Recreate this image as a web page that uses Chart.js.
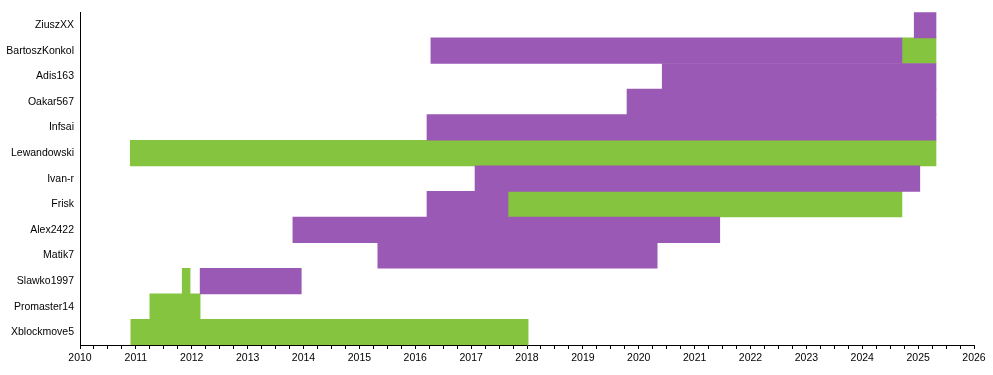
<!DOCTYPE html>
<html>
<head>
<meta charset="utf-8">
<script src="https://cdn.jsdelivr.net/npm/chart.js@4"></script>
<style>
  html, body { margin: 0; padding: 0; background: #fff; }
  #wrap { width: 993px; height: 375px; }
</style>
</head>
<body>
<div id="wrap"><canvas id="chart"></canvas></div>
<script>
// nama anggota, dari atas ke bawah
var members = ['ZiuszXX', 'BartoszKonkol', 'Adis163', 'Oakar567', 'Infsai', 'Lewandowski',
  'Ivan-r', 'Frisk', 'Alex2422', 'Matik7', 'Slawko1997', 'Promaster14', 'Xblockmove5'];

// periode ungu [mulai, selesai]
var purpleSpans = [
  [2024.93, 2025.32], [2016.28, 2024.71], [2020.42, 2025.32], [2019.79, 2025.32],
  [2016.21, 2025.32], null, [2017.07, 2025.03], [2016.21, 2017.66],
  [2013.81, 2021.45], [2015.33, 2020.33], [2012.15, 2013.96], null, null
];

// periode hijau [mulai, selesai]
var greenSpans = [
  null, [2024.71, 2025.32], null, null, null, [2010.9, 2025.32], null, [2017.66, 2024.71],
  null, null, [2011.83, 2011.97], [2011.25, 2012.15], [2010.91, 2018.02]
];

var yearMin = 2010;
var yearMax = 2026;

var ctx = document.getElementById('chart').getContext('2d');
var myChart = new Chart(ctx, {
  type: 'bar',
  data: {
    labels: members,
    datasets: [{
      label: 'purple',
      data: purpleSpans,
      backgroundColor: '#9b59b6',
      borderWidth: 0,
      grouped: false,
      categoryPercentage: 1,
      barPercentage: 1
    }, {
      label: 'green',
      data: greenSpans,
      backgroundColor: '#84c43e',
      borderWidth: 0,
      grouped: false,
      categoryPercentage: 1,
      barPercentage: 1
    }]
  },
  options: {
    indexAxis: 'y',
    responsive: true,
    maintainAspectRatio: false,
    animation: false,
    layout: { padding: { top: 10, right: 19, bottom: 0, left: 0 } },
    plugins: {
      legend: { display: false },
      tooltip: { enabled: false }
    },
    scales: {
      x: {
        type: 'linear',
        min: yearMin,
        max: yearMax,
        afterFit: function(scale) { scale.height = 30; },
        border: { display: true, color: '#000', width: 1 },
        grid: { drawOnChartArea: false, drawTicks: true, tickLength: 4, color: '#000' },
        ticks: {
          stepSize: 0.25,
          autoSkip: false,
          maxRotation: 0,
          padding: 3,
          color: '#000',
          font: { family: 'Liberation Sans, Arial, sans-serif', size: 10.5 },
          callback: function(v) {
            return Number.isInteger(v) ? String(v) : '';
          }
        }
      },
      y: {
        type: 'category',
        afterFit: function(scale) { scale.width = 80; },
        border: { display: true, color: '#000', width: 1 },
        grid: { display: false, drawTicks: false },
        ticks: {
          padding: 6,
          color: '#000',
          font: { family: 'Liberation Sans, Arial, sans-serif', size: 10.5 }
        }
      }
    }
  }
});
</script>
</body>
</html>
